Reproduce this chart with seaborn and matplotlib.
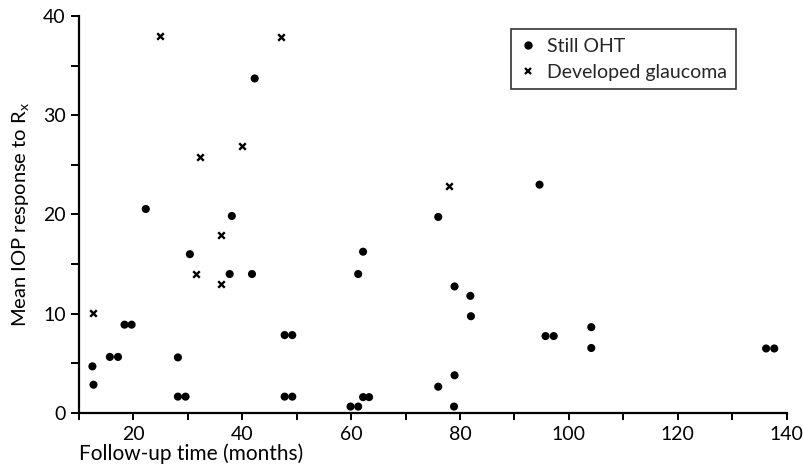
import matplotlib
matplotlib.use("Agg")
import matplotlib.pyplot as plt
import seaborn as sns
import pandas as pd
from matplotlib.ticker import MultipleLocator

# Still OHT (dots)
oht_months = [12.5, 12.7, 15.7, 17.2, 18.4, 19.7, 22.3, 28.2, 28.2, 29.6, 30.4,
              37.7, 38.1, 41.8, 42.3, 47.8, 49.2, 47.8, 49.2, 59.9, 61.3, 61.3,
              62.2, 62.2, 63.3, 76.0, 76.0, 78.9, 79.0, 79.0, 81.9, 82.0, 94.6,
              95.7, 97.2, 104.1, 104.1, 136.2, 137.7]
oht_iop = [4.7, 2.85, 5.65, 5.65, 8.9, 8.9, 20.55, 5.6, 1.65, 1.65, 16.0,
           14.0, 19.85, 14.0, 33.7, 7.85, 7.85, 1.65, 1.65, 0.65, 0.65, 14.0,
           16.25, 1.6, 1.6, 19.75, 2.65, 0.65, 3.8, 12.75, 11.8, 9.75, 23.0,
           7.75, 7.75, 8.65, 6.55, 6.5, 6.5]

# Developed glaucoma (crosses)
gl_months = [12.7, 24.9, 31.5, 32.2, 36.1, 36.2, 40.0, 47.2, 77.9]
gl_iop = [10.1, 38.0, 14.0, 25.8, 13.0, 17.9, 26.9, 37.9, 22.9]

groups = ["Still OHT", "Developed glaucoma"]
xtick_vals = [20, 40, 60, 80, 100, 120, 140]
xtick_labels = ["20", "40", "60", "80", "100", "120", "140"]

df = pd.DataFrame({
    "months": oht_months + gl_months,
    "iop": oht_iop + gl_iop,
    "group": [groups[0]] * len(oht_months) + [groups[1]] * len(gl_months),
})

sns.set_style("ticks")
plt.rcParams["font.family"] = ["Lato", "DejaVu Sans"]

fig = plt.figure(figsize=(8.04, 4.68), dpi=100)
ax = fig.add_axes([0.098, 0.1175, 0.8806, 0.8485])

oht = df[df.group == groups[0]]
gl = df[df.group == groups[1]]
sns.scatterplot(data=oht, x="months", y="iop", marker="o", color="black",
                s=34, edgecolor="none", ax=ax, legend=False)
sns.scatterplot(data=gl, x="months", y="iop", marker="x", color="black",
                s=22, linewidth=1.7, ax=ax, legend=False)

ax.set_xlim(10, 140)
ax.set_ylim(0, 40)
ax.set_xticks(xtick_vals)
ax.set_xticklabels(xtick_labels)
ax.xaxis.set_minor_locator(MultipleLocator(10))
ax.yaxis.set_major_locator(MultipleLocator(10))
ax.yaxis.set_minor_locator(MultipleLocator(5))

for s in ["top", "right"]:
    ax.spines[s].set_visible(False)
for s in ["left", "bottom"]:
    ax.spines[s].set_linewidth(1.6)
    ax.spines[s].set_color("black")

ax.tick_params(axis="both", which="both", direction="out", width=1.4,
               length=6, color="black", labelsize=14, labelcolor="black")
ax.tick_params(axis="x", which="both", length=5, pad=4)

ax.set_xlabel("Follow-up time (months)", fontsize=15, loc="left", labelpad=1,
              color="black")
ax.set_ylabel(r"Mean IOP response to R$_\mathregular{x}$", fontsize=14.5,
              labelpad=8, color="black")

handles = [
    plt.Line2D([], [], marker="o", ls="none", color="black", markersize=5),
    plt.Line2D([], [], marker="x", ls="none", color="black", markersize=4,
               markeredgewidth=1.6),
]
leg = ax.legend(handles, groups, loc="upper right", bbox_to_anchor=(0.928, 0.967),
                frameon=True, fancybox=False, fontsize=14, handlelength=0.8,
                handletextpad=0.6, borderpad=0.45, labelspacing=0.45,
                borderaxespad=0)
leg.get_frame().set_edgecolor("black")
leg.get_frame().set_linewidth(1.2)

fig.savefig("out.png", dpi=100)
